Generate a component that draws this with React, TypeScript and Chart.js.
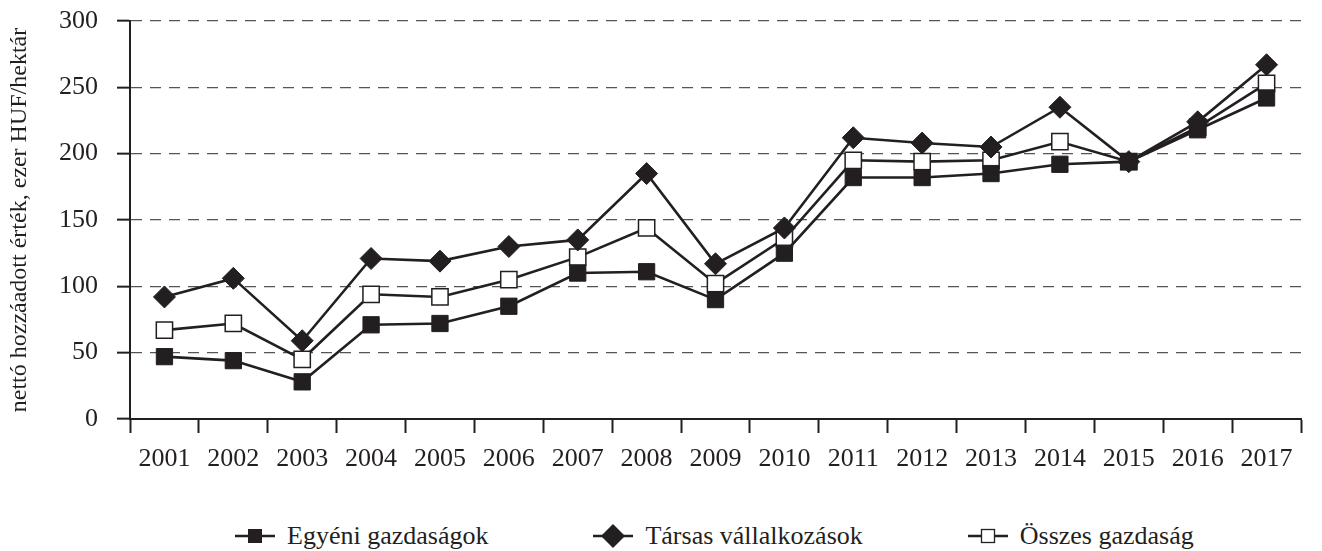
import React, { useEffect, useRef } from "react";
import { Chart, registerables } from "chart.js";

Chart.register(...registerables);

const years = ["2001", "2002", "2003", "2004", "2005", "2006", "2007", "2008", "2009", "2010", "2011", "2012", "2013", "2014", "2015", "2016", "2017"];
const egyeni = [47, 44, 28, 71, 72, 85, 110, 111, 90, 125, 182, 182, 185, 192, 194, 218, 242];
const tarsas = [92, 106, 59, 121, 119, 130, 135, 185, 117, 144, 212, 208, 205, 235, 194, 224, 267];
const osszes = [67, 72, 45, 94, 92, 105, 122, 144, 102, 136, 195, 194, 195, 209, 194, 220, 253];
const yTickValues = [0, 50, 100, 150, 200, 250, 300];
const seriesNames = ["Egyéni gazdaságok", "Társas vállalkozások", "Összes gazdaság"];
const yTitle = "nettó hozzáadott érték, ezer HUF/hektár";

const INK = "#231f20";
const FONT = "'Liberation Serif', 'Times New Roman', serif";

function LegendMarker({ kind }: { kind: number }) {
  return (
    <svg width={40} height={26} style={{ display: "block", marginRight: 12 }}>
      <line x1={0} y1={13} x2={40} y2={13} stroke={INK} strokeWidth={2.5} />
      {kind === 0 && <rect x={13} y={6} width={14} height={14} fill={INK} />}
      {kind === 1 && <polygon points="20,1 32,13 20,25 8,13" fill={INK} />}
      {kind === 2 && <rect x={13.5} y={6.5} width={13} height={13} fill="#fff" stroke={INK} strokeWidth={1.3} />}
    </svg>
  );
}

export default function App() {
  const ref = useRef<HTMLCanvasElement>(null);

  useEffect(() => {
    const chart = new Chart(ref.current as HTMLCanvasElement, {
      type: "line",
      data: {
        labels: years,
        datasets: [
          {
            label: seriesNames[0],
            data: egyeni,
            borderColor: INK,
            borderWidth: 2.6,
            pointStyle: "rect",
            pointRadius: 11.5,
            pointBackgroundColor: INK,
            pointBorderColor: INK,
            pointBorderWidth: 1,
            tension: 0,
            order: 1,
            clip: false as any,
          },
          {
            label: seriesNames[1],
            data: tarsas,
            borderColor: INK,
            borderWidth: 2.6,
            pointStyle: "rectRot",
            pointRadius: 11,
            pointBackgroundColor: INK,
            pointBorderColor: INK,
            pointBorderWidth: 1,
            tension: 0,
            order: 0,
            clip: false as any,
          },
          {
            label: seriesNames[2],
            data: osszes,
            borderColor: INK,
            borderWidth: 2.6,
            pointStyle: "rect",
            pointRadius: 11.5,
            pointBackgroundColor: "#ffffff",
            pointBorderColor: INK,
            pointBorderWidth: 1.5,
            tension: 0,
            order: 2,
            clip: false as any,
          },
        ],
      },
      options: {
        animation: false,
        responsive: true,
        maintainAspectRatio: false,
        layout: { padding: { top: 11, right: 1, left: 0, bottom: 0 } },
        plugins: {
          legend: { display: false },
          tooltip: { enabled: false },
        },
        scales: {
          x: {
            offset: true,
            grid: {
              offset: true,
              drawOnChartArea: false,
              drawTicks: true,
              tickLength: 14,
              tickColor: INK,
              tickWidth: 2,
              color: INK,
            },
            border: { color: INK, width: 2 },
            ticks: {
              color: INK,
              font: { family: FONT, size: 26 },
              padding: 11,
              maxRotation: 0,
              autoSkip: false,
            },
            afterFit: (s: any) => {
              s.height = 64;
            },
          },
          y: {
            min: 0,
            max: 300,
            afterBuildTicks: (s: any) => {
              s.ticks = yTickValues.map((v) => ({ value: v }));
            },
            grid: {
              color: "#555555",
              lineWidth: 1.3,
              tickLength: 13,
              tickColor: INK,
              tickWidth: 2,
              tickBorderDash: [],
            },
            border: { color: INK, width: 2, dash: [11, 8] },
            ticks: {
              color: INK,
              font: { family: FONT, size: 26 },
              padding: 19,
            },
            title: {
              display: true,
              text: yTitle,
              color: INK,
              font: { family: FONT, size: 24, lineHeight: 1 },
              padding: 0,
            },
            afterFit: (s: any) => {
              s.width = 122;
              s.paddingTop = 0;
              s.paddingBottom = 0;
            },
          },
        },
      } as any,
    });
    return () => chart.destroy();
  }, []);

  return (
    <div style={{ position: "relative", width: "100%", height: 543 }}>
      <div style={{ position: "absolute", left: 0, top: 0, width: "100%", height: 475 }}>
        <canvas ref={ref} />
      </div>
      <div
        style={{
          position: "absolute",
          left: 227,
          top: 515,
          display: "flex",
          alignItems: "center",
          gap: 105,
          fontFamily: FONT,
          fontSize: 26,
          lineHeight: "26px",
          color: INK,
          whiteSpace: "nowrap",
        }}
      >
        {seriesNames.map((name, i) => (
          <div key={name} style={{ display: "flex", alignItems: "center" }}>
            <LegendMarker kind={i} />
            <span>{name}</span>
          </div>
        ))}
      </div>
    </div>
  );
}
